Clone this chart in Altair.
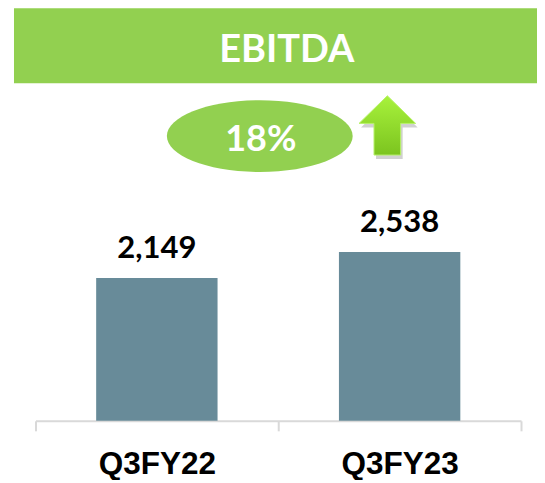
import altair as alt
import pandas as pd

# ---- data ----
categories = ["Q3FY22", "Q3FY23"]
values = [2149, 2538]
title_text = "EBITDA"
growth_text = "18%"

GREEN = "#92D050"
BAR = "#688B99"

df = pd.DataFrame({"period": categories, "ebitda": values})

W, H = 486, 413
one = alt.Data(values=[{"k": 0}])

x_enc = alt.X(
    "period:N",
    sort=categories,
    title=None,
    scale=alt.Scale(paddingInner=0, paddingOuter=0),
    axis=alt.Axis(
        labelAngle=0,
        labelFont="Liberation Sans",
        labelFontWeight="bold",
        labelFontSize=31.5,
        labelColor="#000000",
        labelBaseline="alphabetic",
        labelPadding=43,
        domainColor="#d9d9d9",
        domainWidth=2,
        tickColor="#d9d9d9",
        tickWidth=2,
        tickSize=10,
        tickBand="extent",
        grid=False,
    ),
)
y_enc = alt.Y(
    "ebitda:Q",
    title=None,
    scale=alt.Scale(domain=[0, 6207], nice=False, zero=True),
    axis=None,
)

bars = alt.Chart(df).mark_bar(color=BAR, width=alt.RelativeBandSize(0.5)).encode(x=x_enc, y=y_enc)

bar_labels = alt.Chart(df).mark_text(
    font="Lato", fontWeight="bold", fontSize=31, color="#000000",
    baseline="alphabetic", align="center", dy=-20,
).encode(
    x=alt.X("period:N", sort=categories),
    y=alt.Y("ebitda:Q"),
    text=alt.Text("ebitda:Q", format=",.0f"),
)

banner = alt.Chart(one).mark_rect(color=GREEN).encode(
    x=alt.value(-21.5), x2=alt.value(509.5), y=alt.value(0), y2=alt.value(75)
)
banner_text = alt.Chart(one).transform_calculate(t=f"'{title_text}'").mark_text(
    font="Lato", fontWeight="bold", fontSize=38, color="white",
    baseline="alphabetic", align="center",
).encode(x=alt.value(251.5), y=alt.value(54), text="t:N")

ellipse_path = "M -1 0 A 1 0.387 0 1 1 1 0 A 1 0.387 0 1 1 -1 0 Z"
ellipse = alt.Chart(one).mark_point(
    shape=ellipse_path, filled=True, fill=GREEN, opacity=1, strokeWidth=0, size=186 * 186
).encode(x=alt.value(224.5), y=alt.value(128))

growth = alt.Chart(one).transform_calculate(t=f"'{growth_text}'").mark_text(
    font="Lato", fontWeight="bold", fontSize=36, color="white",
    baseline="alphabetic", align="center",
).encode(x=alt.value(225.5), y=alt.value(143), text="t:N")

arrow_path = "M 0 -1 L 0.956 -0.067 L 0.45 -0.067 L 0.45 1 L -0.45 1 L -0.45 -0.067 L -0.956 -0.067 Z"
arrow_shadow = alt.Chart(one).mark_point(
    shape=arrow_path, filled=True, fill="#9a9a9a", opacity=0.45, strokeWidth=0, size=59.3 * 59.3
).encode(x=alt.value(352.2 + 2), y=alt.value(117.3 + 4))
arrow = alt.Chart(one).mark_point(
    shape=arrow_path, filled=True, opacity=1, size=59.3 * 59.3,
    fill=alt.Gradient(
        gradient="linear",
        stops=[alt.GradientStop(color="#a8f23c", offset=0),
               alt.GradientStop(color="#7cc41f", offset=1)],
        x1=0, x2=0, y1=0, y2=1,
    ),
    stroke="#b8f26a", strokeWidth=1,
).encode(x=alt.value(352.2), y=alt.value(117.3))

chart = alt.layer(
    banner, banner_text, ellipse, growth, arrow_shadow, arrow, bars, bar_labels
).properties(
    width=W, height=H,
    autosize=alt.AutoSizeParams(type="none"),
    padding={"left": 27.5, "top": 0, "right": 16, "bottom": 59},
).configure_view(stroke=None)

chart.save("out.html", embed_options={"renderer": "svg", "actions": False})
